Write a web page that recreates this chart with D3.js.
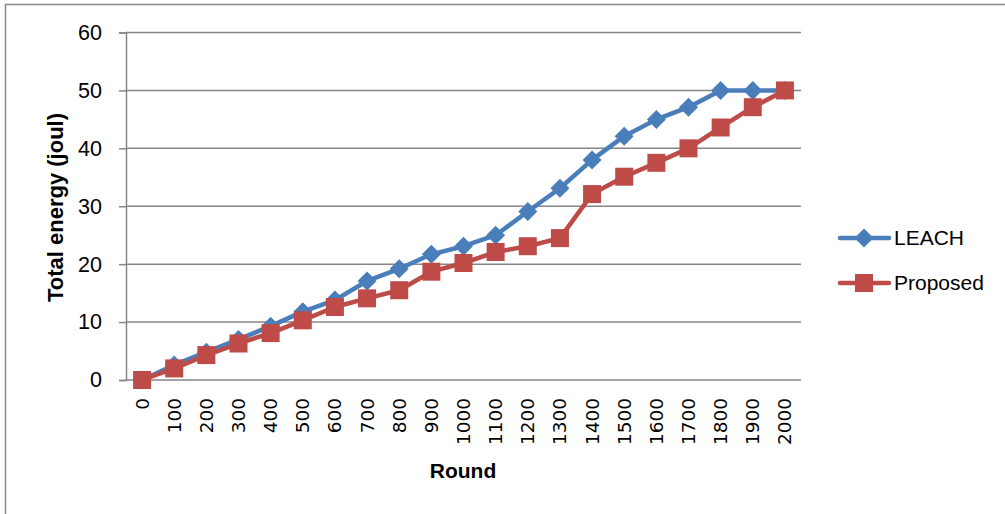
<!DOCTYPE html>
<html><head><meta charset="utf-8">
<script src="https://cdn.jsdelivr.net/npm/d3@7"></script>
<style>body{margin:0;background:#fff}svg{display:block}</style>
</head><body><svg id="c" width="1005" height="514"></svg>
<script>
const rounds = ["0","100","200","300","400","500","600","700","800","900","1000","1100","1200","1300","1400","1500","1600","1700","1800","1900","2000"];
const leach = [0,2.6,4.8,7,9.3,11.8,13.8,17.1,19.2,21.7,23.1,25,29.1,33.1,38,42.1,45,47.1,50,50,50];
const proposed = [0,2,4.3,6.3,8.1,10.3,12.6,14.1,15.5,18.7,20.2,22.1,23.1,24.5,32.1,35.1,37.5,40,43.6,47.1,50];
const yTicks = [0,10,20,30,40,50,60];
const seriesNames = ["LEACH","Proposed"];

const svg = d3.select("#c");
const font = "'Liberation Sans','Arial',sans-serif";
const L=126,R=801,T=32.5,B=380;
const x = d3.scaleBand().domain(rounds).range([L,R]);
const cx = d => x(d)+x.bandwidth()/2;
const y = d3.scaleLinear().domain([0,60]).range([B,T]);

// outer border
svg.append("path").attr("d","M5.5,514 V4.5 H1005").attr("fill","none").attr("stroke","#898989").attr("stroke-width",1.5);

// gridlines
svg.append("g").selectAll("line").data(yTicks).join("line")
  .attr("x1",L).attr("x2",R).attr("y1",d=>y(d)).attr("y2",d=>y(d))
  .attr("stroke","#868686").attr("stroke-width",1.5);

// y axis
const ya = svg.append("g").attr("transform",`translate(${L},0)`)
  .call(d3.axisLeft(y).tickValues(yTicks).tickSize(7).tickPadding(17));
ya.select(".domain").attr("stroke","#868686").attr("stroke-width",1.5);
ya.selectAll(".tick line").attr("stroke","#868686").attr("stroke-width",1.5);
ya.selectAll("text").attr("font-family",font).attr("font-size",21.5).attr("fill","#000");

// x axis labels
const xa = svg.append("g").attr("transform",`translate(0,${B})`)
  .call(d3.axisBottom(x).tickSize(0).tickPadding(0));
xa.select(".domain").remove();
xa.selectAll("text").attr("font-family","'DejaVu Sans',sans-serif").attr("font-size",18.5).attr("fill","#000")
  .attr("transform","rotate(-90)").attr("text-anchor","end").attr("dy","0.35em").attr("x",-18).attr("y",0);

// titles
svg.append("text").attr("x",463).attr("y",478).attr("text-anchor","middle")
  .attr("font-family",font).attr("font-weight","bold").attr("font-size",21).text("Round");
svg.append("text").attr("transform","translate(63,207.5) rotate(-90)").attr("text-anchor","middle")
  .attr("font-family",font).attr("font-weight","bold").attr("font-size",22).text("Total energy (joul)");

const colors = ["#4A7EBB","#BE4B48"];
const data = [leach, proposed];
const line = d3.line().x((d,i)=>cx(rounds[i])).y(d=>y(d));
const diamond = "M0,-9.5 L9.5,0 L0,9.5 L-9.5,0Z";
const square = "M-9,-9 H9 V9 H-9Z";
const shapes=[diamond,square];

data.forEach((s,k)=>{
  const g = svg.append("g");
  g.append("path").datum(s).attr("d",line).attr("fill","none").attr("stroke",colors[k]).attr("stroke-width",4.5).attr("stroke-linejoin","round");
  g.selectAll("path.m").data(s).join("path").attr("class","m")
    .attr("transform",(d,i)=>`translate(${cx(rounds[i])},${y(d)})`)
    .attr("d",shapes[k]).attr("fill",colors[k]);
});

// legend
seriesNames.forEach((n,k)=>{
  const ly = 238 + k*45;
  const g = svg.append("g");
  g.append("line").attr("x1",840).attr("x2",889).attr("y1",ly).attr("y2",ly).attr("stroke",colors[k]).attr("stroke-width",4.5).attr("stroke-linecap","round");
  g.append("path").attr("transform",`translate(864,${ly})`).attr("d",shapes[k]).attr("fill",colors[k]);
  g.append("text").attr("x",894).attr("y",ly).attr("dy","0.35em").attr("font-family",font).attr("font-size",21).text(n);
});
</script></body></html>
